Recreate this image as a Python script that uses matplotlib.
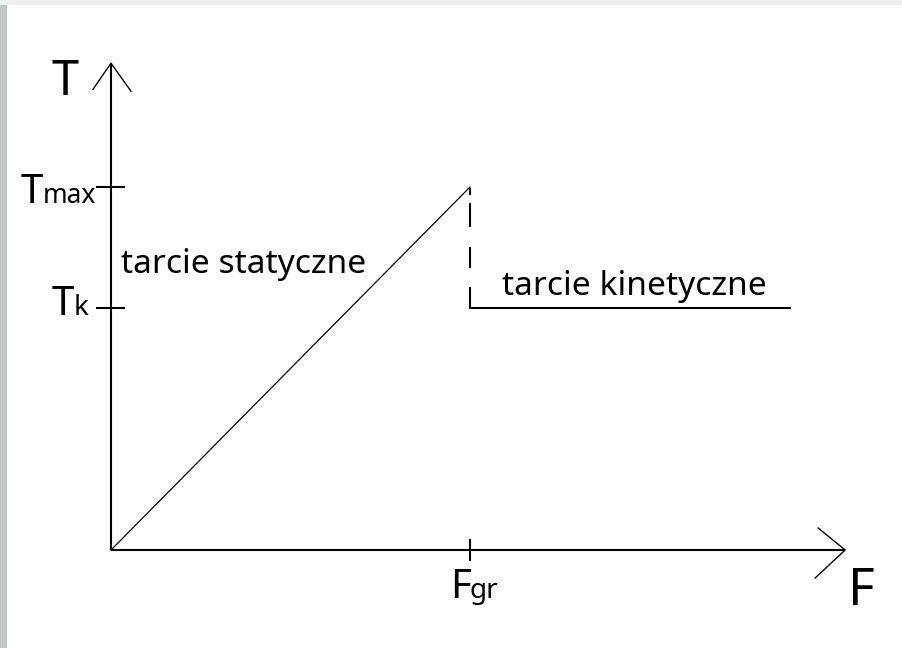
import matplotlib.pyplot as plt
from matplotlib.patches import Rectangle

plt.rcParams['font.family'] = ['Noto Sans', 'DejaVu Sans']

# Values (T_max and F_gr normalised to 1)
f_gr = 1.0
t_max = 1.0
t_k = 0.667
f_end = 1.89          # end of the kinetic friction line
f_axis_end = 2.045
t_axis_end = 1.341

static_label = 'tarcie statyczne'
kinetic_label = 'tarcie kinetyczne'

# pixel mapping of the original drawing (origin at 111, 550)
sx, sy = 359.0, 363.0
ox, oy = 111.0, 550.0
W, H = 902, 648


def px(x, y):
    # convert picture pixels to data coordinates (for text placement)
    return (x - ox) / sx, (oy - y) / sy


fig = plt.figure(figsize=(W / 100, H / 100), dpi=100)
ax = fig.add_axes([0, 0, 1, 1])
ax.set_xlim(-ox / sx, (W - ox) / sx)
ax.set_ylim((oy - H) / sy, oy / sy)
ax.axis('off')

# grey frame on the left and top, like the screenshot
fig.add_artist(Rectangle((0, 0), 7 / W, 1, transform=fig.transFigure,
                         color='#c3c7c7', lw=0))
fig.add_artist(Rectangle((0, 1 - 5 / H), 1, 5 / H, transform=fig.transFigure,
                         color='#eeeeee', lw=0))

# axes with open arrow heads
ax.plot([0, 0], [0, t_axis_end], color='black', lw=1.5, solid_capstyle='butt')
ax.plot([0, f_axis_end], [0, 0], color='black', lw=1.5, solid_capstyle='butt')
ax.plot([-18 / sx, 0, 20 / sx], [t_axis_end - 26 / sy, t_axis_end, t_axis_end - 28 / sy],
        color='black', lw=1.0)
ax.plot([f_axis_end - 27 / sx, f_axis_end, f_axis_end - 30 / sx], [22 / sy, 0, -28 / sy],
        color='black', lw=1.0)

# ticks
for t in (t_max, t_k):
    ax.plot([-14 / sx, 13 / sx], [t, t], color='black', lw=1.5)
ax.plot([f_gr, f_gr], [-10 / sy, 10 / sy], color='black', lw=1.5)

# static friction, jump, kinetic friction
ax.plot([0, f_gr], [0, t_max], color='black', lw=0.9)
ax.plot([f_gr, f_gr], [t_k, t_max], color='black', lw=1.5,
        linestyle=(0, (10.1, 9.1, 10.1, 9.6, 11.5, 3.8, 3.4, 20)))
ax.plot([f_gr, f_end], [t_k, t_k], color='black', lw=1.5)

# labels
ax.text(*px(52, 95), 'T', fontsize=35, ha='left', va='baseline')
ax.text(*px(848, 605), 'F', fontsize=37, ha='left', va='baseline')

ax.text(*px(43, 203), 'T', fontsize=29, ha='right', va='baseline')
ax.text(*px(43, 203), 'max', fontsize=19, ha='left', va='baseline')
ax.text(*px(74, 315), 'T', fontsize=29, ha='right', va='baseline')
ax.text(*px(74, 315), 'k', fontsize=20, ha='left', va='baseline')
ax.text(*px(471, 598), 'F', fontsize=29, ha='right', va='baseline')
ax.text(*px(470, 598), 'gr', fontsize=20, ha='left', va='baseline')

ax.text(*px(121, 273), static_label, fontsize=24.2, ha='left', va='baseline')
ax.text(*px(502, 295), kinetic_label, fontsize=24.2, ha='left', va='baseline')

fig.savefig('out.png', dpi=100)
